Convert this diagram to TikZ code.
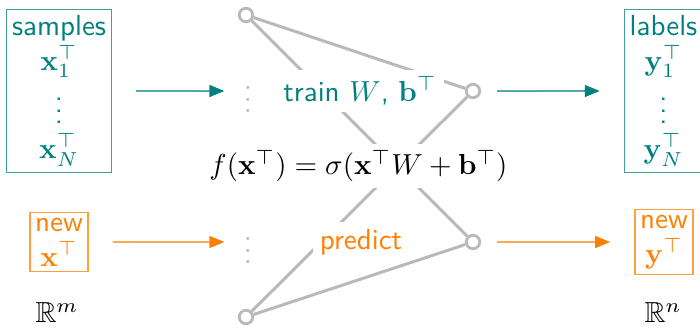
\documentclass[tikz,border=0pt]{standalone}
\usepackage{amsmath,amssymb}
\usetikzlibrary{arrows.meta}
\definecolor{tl}{RGB}{0,128,128}
\definecolor{org}{RGB}{255,128,0}
\definecolor{lgray}{RGB}{185,185,185}
\begin{document}
\begin{tikzpicture}[x=1pt,y=-1pt,
  sc/.style={scale=2.9},
  txt/.style={sc, font=\sffamily},
  tbox/.style={txt, draw=tl!75, line width=1.2pt, text=tl, align=center, inner xsep=1.8pt, inner ysep=2pt},
  obox/.style={txt, draw=org!75, line width=1.2pt, text=org, align=center, inner xsep=1.8pt, inner ysep=2pt},
  neuron/.style={circle, draw=lgray, fill=white, line width=2.8pt, minimum size=13.5pt, inner sep=0pt},
  vd/.style={sc, text=lgray, inner sep=0pt},
  conn/.style={draw=lgray, line width=3pt},
  tarr/.style={draw=tl, fill=tl, line width=1.3pt, -{Triangle[length=15pt,width=12pt]}},
  oarr/.style={draw=org, fill=org, line width=1.3pt, -{Triangle[length=15pt,width=12pt]}},
  lab/.style={txt, fill=white, inner sep=2.5pt}]
\useasboundingbox (0,0) rectangle (700,329);

% boxes
\node[tbox] (samples) at (59,91) {samples\\$\mathbf{x}_1^\top$\\$\vdots$\\$\mathbf{x}_N^\top$};
\node[obox] (newx) at (59,242) {new\\$\mathbf{x}^\top$};
\node[sc] (Rm) at (57,313) {$\mathbb{R}^m$};
\node[tbox] (labels) at (663.5,91) {labels\\$\mathbf{y}_1^\top$\\$\vdots$\\$\mathbf{y}_N^\top$};
\node[obox] (newy) at (664,242) {new\\$\mathbf{y}^\top$};
\node[sc] (Rn) at (663,313) {$\mathbb{R}^n$};

% neurons
\node[neuron] (in1) at (246,15) {};
\node[vd] (in2) at (248,91) {$\vdots$};
\node[vd] (in3) at (248,242) {$\vdots$};
\node[neuron] (in4) at (246,317) {};
\node[neuron] (out1) at (473,91) {};
\node[neuron] (out2) at (473,242) {};

% connections
\draw[conn] (in1) -- (out1);
\draw[conn] (in1) -- (out2);
\draw[conn] (in4) -- (out1);
\draw[conn] (in4) -- (out2);

% labels
\node[lab, text=tl] (train) at (360,91) {train $W$, $\mathbf{b}^\top$};
\node[lab, text=org] (predict) at (361,242) {predict};
\node[sc, fill=white, inner sep=2pt] (formula) at (358.5,166) {$f(\mathbf{x}^\top) = \sigma(\mathbf{x}^\top W + \mathbf{b}^\top)$};

% arrows
\draw[tarr, shorten <=23pt, shorten >=19pt] (samples) -- (in2);
\draw[oarr, shorten <=23pt, shorten >=19pt] (newx) -- (in3);
\draw[tarr, shorten <=16pt, shorten >=23pt] (out1) -- (labels);
\draw[oarr, shorten <=16pt, shorten >=23pt] (out2) -- (newy);
\end{tikzpicture}
\end{document}
